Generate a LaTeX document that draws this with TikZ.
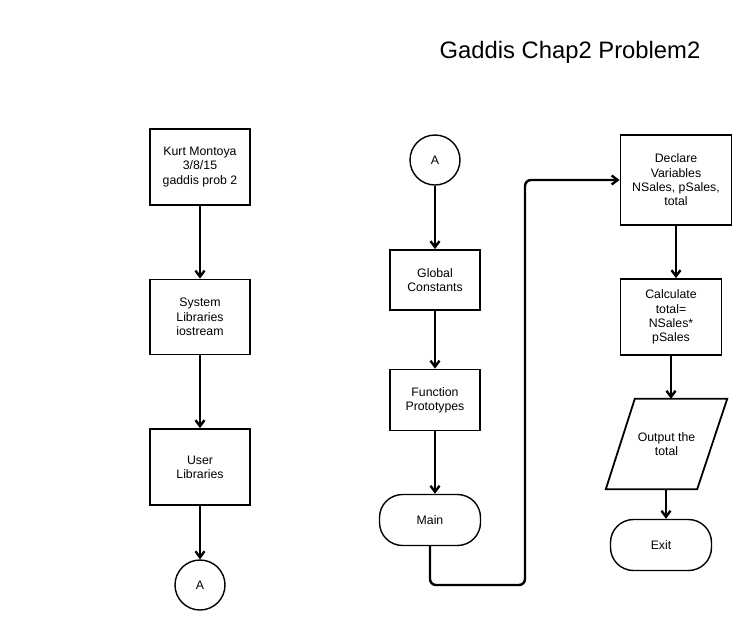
\documentclass[tikz,border=0pt]{standalone}
\usepackage{fontspec}
\setmainfont{Liberation Sans}
\usetikzlibrary{arrows.meta}

\begin{document}
\begin{tikzpicture}[x=1pt, y=-1pt,
  every node/.style = {align=center, font=\fontsize{12.3}{14.3}\selectfont},
  box/.style = {shape=rectangle, draw, line width=1.8pt},
  term/.style = {shape=rectangle, rounded corners=23pt, draw, line width=1.4pt,
    minimum width=101pt, minimum height=51pt},
  conn/.style = {shape=circle, draw, line width=1.4pt, minimum size=50pt},
  io/.style = {shape=rectangle, minimum width=121pt, minimum height=90pt},
  line/.style = {draw, line width=2.4pt, -{Straight Barb[length=6pt,width=9pt]}}]
  \fill[white] (0,0) rectangle (756,630);
  \node[font=\fontsize{23.8}{28}\selectfont] (title) at (570,52) {Gaddis Chap2 Problem2};
  % left column
  \node[box, minimum width=100pt, minimum height=76pt] (author) at (200,167)
    {Kurt Montoya\\3/8/15\\gaddis prob 2};
  \node[box, minimum width=100pt, minimum height=75pt] (syslib) at (200,317)
    {System\\Libraries\\iostream};
  \node[box, minimum width=100pt, minimum height=76pt] (userlib) at (200,467)
    {User\\Libraries};
  \node[conn] (outA) at (200,585) {A};
  % middle column
  \node[conn] (inA) at (435,160) {A};
  \node[box, minimum width=90pt, minimum height=60pt] (globals) at (435,280)
    {Global\\Constants};
  \node[box, minimum width=90pt, minimum height=61pt] (protos) at (435,400)
    {Function\\Prototypes};
  \node[term] (main) at (430,520) {Main};
  \coordinate (turn) at (525,585);
  % right column
  \node[box, minimum width=111pt, minimum height=90pt] (decl) at (676,180)
    {Declare\\Variables\\NSales, pSales,\\total};
  \node[box, minimum width=101pt, minimum height=76pt] (calc) at (671,317)
    {Calculate\\total=\\NSales*\\pSales};
  \node[io] (out) at (666.5,444) {Output the\\total};
  \draw[line width=1.8pt, line join=miter]
    ([xshift=29pt]out.north west) -- (out.north east)
    -- ([xshift=-30pt]out.south east) -- (out.south west) -- cycle;
  \node[term] (exit) at (661,545) {Exit};

  \draw[line] (author) -- (syslib);
  \draw[line] (syslib) -- (userlib);
  \draw[line] (userlib) -- (outA);
  \draw[line] (inA) -- (globals);
  \draw[line] (globals) -- (protos);
  \draw[line] (protos.south) -- (protos.south |- main.north);
  \draw[line, rounded corners=6pt] (main.south) |- (turn) |- (decl.west);
  \draw[line] (decl.south) -- (decl.south |- calc.north);
  \draw[line] (calc.south) -- (calc.south |- out.north);
  \draw[line] ([xshift=-0.5pt]out.south) -- ([xshift=-0.5pt]out.south |- exit.north);
\end{tikzpicture}
\end{document}
